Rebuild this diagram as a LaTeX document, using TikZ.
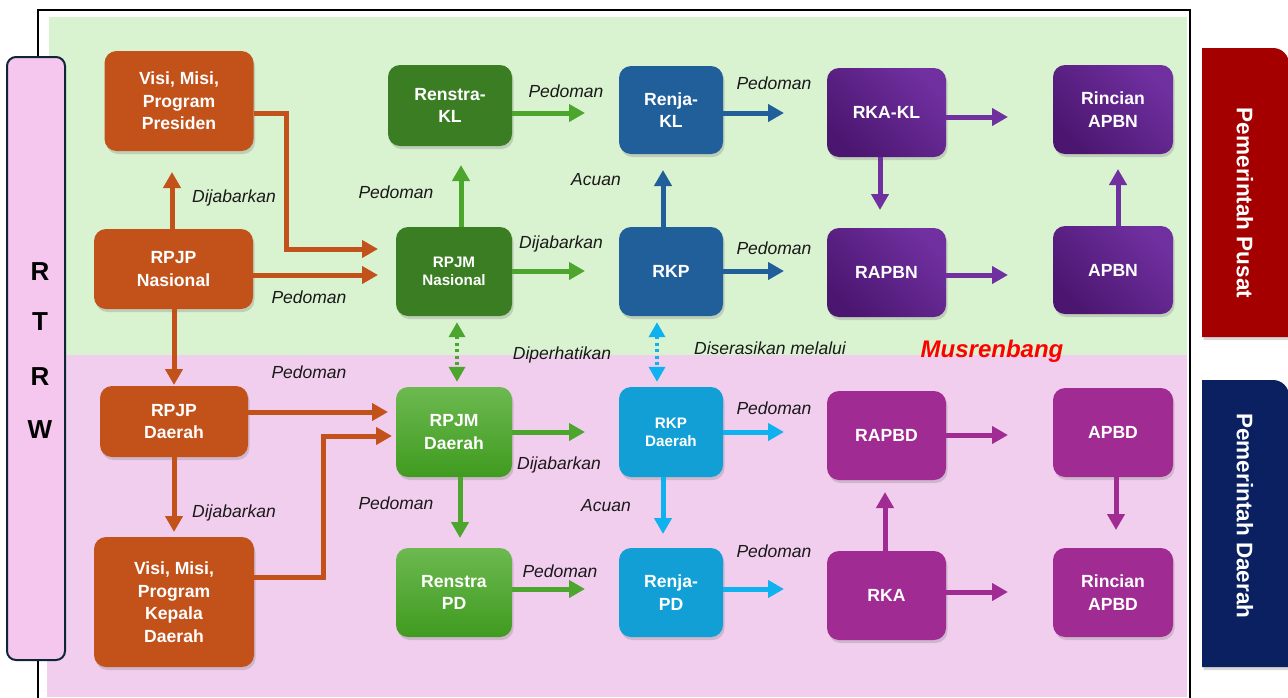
\documentclass[tikz,border=0pt]{standalone}
\usepackage{fontspec}
\setmainfont{Liberation Sans}
\usetikzlibrary{arrows.meta,shadows}
\definecolor{cOr}{HTML}{C2521A}
\definecolor{cDG}{HTML}{3B7D23}
\definecolor{aG}{HTML}{4CA52C}
\definecolor{lgT}{HTML}{6CB950}
\definecolor{lgB}{HTML}{3F9B1F}
\definecolor{cBl}{HTML}{215F9A}
\definecolor{cCy}{HTML}{129FD6}
\definecolor{aCy}{HTML}{0FB1EF}
\definecolor{puD}{HTML}{4B1670}
\definecolor{puL}{HTML}{7030A0}
\definecolor{cMg}{HTML}{A02B93}
\definecolor{bgG}{HTML}{D9F2D0}
\definecolor{bgP}{HTML}{F2CEEE}
\definecolor{rtF}{HTML}{F5C6EE}
\definecolor{rtB}{HTML}{0E2636}
\definecolor{cRed}{HTML}{A50000}
\definecolor{cNavy}{HTML}{0B2060}
\definecolor{cMus}{HTML}{FF0000}
\begin{document}
\begin{tikzpicture}[x=1pt,y=-1pt,
  box/.style={rounded corners=12pt, text=white, align=center, inner sep=2pt,
    font=\bfseries\fontsize{17.6}{22.5}\selectfont,
    drop shadow={shadow xshift=1.5pt, shadow yshift=-3pt, opacity=0.3}},
  smalltxt/.style={font=\bfseries\fontsize{15.2}{18}\selectfont},
  purp/.style={top color=puL, bottom color=puD, shading angle=-45},
  lgreen/.style={top color=lgT, bottom color=lgB},
  arr/.style={draw=#1, line width=5pt, -{Triangle[length=16pt,width=17pt]}},
  dotarr/.style={draw=#1, line width=3.5pt, dash pattern=on 3pt off 3.5pt,
    {Triangle[length=15pt,width=16pt]}-{Triangle[length=15pt,width=16pt]}},
  lab/.style={font=\itshape\fontsize{17.5}{20}\selectfont, text=black!90, inner sep=0pt},
  side/.style={font=\bfseries\fontsize{22.5}{24}\selectfont, text=white, rotate=-90, inner sep=0pt},
  rt/.style={font=\bfseries\fontsize{26}{28}\selectfont, text=black, inner sep=0pt}
]
\useasboundingbox (0,0) rectangle (1288,697);
\fill[white] (0,0) rectangle (1288,697);
% backgrounds
\fill[bgG] (49,17) rectangle (1187,355);
\fill[bgP] (47,355) rectangle (1187,697);
\draw[line width=2.5pt] (38,700) -- (38,10) -- (1190,10) -- (1190,700);
% RTRW bar
\draw[fill=rtF, draw=rtB, line width=2pt, rounded corners=9pt] (7,57) rectangle (65,660);
\node[rt] (rR1) at (40,272) {R};
\node[rt] (rT) at (40,322) {T};
\node[rt] (rR2) at (40,377) {R};
\node[rt] (rW) at (40,430) {W};
% side panels
\path[fill=cRed, drop shadow={shadow xshift=1.5pt, shadow yshift=-3pt, opacity=0.3}]
  (1202,337) -- (1202,48) -- (1273,48) arc[start angle=-90, end angle=0, radius=16] -- (1289,337) -- cycle;
\node[side] (pusat) at (1245,203) {Pemerintah Pusat};
\path[fill=cNavy, drop shadow={shadow xshift=1.5pt, shadow yshift=-3pt, opacity=0.3}]
  (1202,667) -- (1202,380) -- (1273,380) arc[start angle=-90, end angle=0, radius=16] -- (1289,667) -- cycle;
\node[side] (daerah) at (1245,516) {Pemerintah Daerah};
% nodes column 1
\node[box, fill=cOr, minimum width=149pt, minimum height=100pt] (vmp) at (179,101) {Visi, Misi,\\Program\\Presiden};
\node[box, fill=cOr, minimum width=159pt, minimum height=80pt] (rpjpn) at (173.5,269) {RPJP\\Nasional};
\node[box, fill=cOr, minimum width=148pt, minimum height=71pt] (rpjpd) at (174,421.5) {RPJP\\Daerah};
\node[box, fill=cOr, minimum width=160pt, minimum height=130pt] (vmkd) at (174,602) {Visi, Misi,\\Program\\Kepala\\Daerah};
% column 2
\node[box, fill=cDG, minimum width=124pt, minimum height=81pt] (renstrakl) at (450,105.5) {Renstra-\\KL};
\node[box, smalltxt, fill=cDG, minimum width=116pt, minimum height=89pt] (rpjmn) at (454,271.5) {RPJM\\Nasional};
\node[box, lgreen, minimum width=116pt, minimum height=90pt] (rpjmd) at (454,432) {RPJM\\Daerah};
\node[box, lgreen, minimum width=116pt, minimum height=89pt] (renstrapd) at (454,592.5) {Renstra\\PD};
% column 3
\node[box, fill=cBl, minimum width=104pt, minimum height=88pt] (renjakl) at (671,110) {Renja-\\KL};
\node[box, fill=cBl, minimum width=104pt, minimum height=89pt] (rkp) at (671,271.5) {RKP};
\node[box, smalltxt, fill=cCy, minimum width=104pt, minimum height=90pt] (rkpd) at (671,432) {RKP\\Daerah};
\node[box, fill=cCy, minimum width=104pt, minimum height=89pt] (renjapd) at (671,592.5) {Renja-\\PD};
% column 4
\node[box, purp, minimum width=119pt, minimum height=89pt] (rkakl) at (886.5,112.5) {RKA-KL};
\node[box, purp, minimum width=119pt, minimum height=89pt] (rapbn) at (886.5,272.5) {RAPBN};
\node[box, fill=cMg, minimum width=119pt, minimum height=89pt] (rapbd) at (886.5,435.5) {RAPBD};
\node[box, fill=cMg, minimum width=119pt, minimum height=89pt] (rka) at (886.5,595.5) {RKA};
% column 5
\node[box, purp, minimum width=120pt, minimum height=89pt] (rapbnr) at (1113,109.5) {Rincian\\APBN};
\node[box, purp, minimum width=120pt, minimum height=88pt] (apbn) at (1113,270) {APBN};
\node[box, fill=cMg, minimum width=120pt, minimum height=89pt] (apbd) at (1113,432.5) {APBD};
\node[box, fill=cMg, minimum width=120pt, minimum height=89pt] (rapbdr) at (1113,592.5) {Rincian\\APBD};
% arrow tips
\coordinate (t1) at (172,172);
\coordinate (t2) at (378,249);
\coordinate (t3) at (378,275);
\coordinate (t4) at (174,385);
\coordinate (t5) at (388,412);
\coordinate (t6) at (174,532);
\coordinate (t7) at (392,436);
\coordinate (t8) at (461,165);
\coordinate (t9) at (585,113);
\coordinate (t10) at (585,271);
\coordinate (t11) at (663,170);
\coordinate (t12) at (784,113);
\coordinate (t13) at (784,271);
\coordinate (t16) at (585,432);
\coordinate (t17) at (460,538);
\coordinate (t18) at (585,589);
\coordinate (t19) at (784,432);
\coordinate (t20) at (663,534);
\coordinate (t21) at (784,589);
\coordinate (t22) at (1008,117);
\coordinate (t23) at (880,210);
\coordinate (t24) at (1008,275);
\coordinate (t25) at (1118,169);
\coordinate (t26) at (1008,435);
\coordinate (t27) at (885,492);
\coordinate (t28) at (1008,592);
\coordinate (t29) at (1116,530);
\coordinate (b2) at (286,113);
\coordinate (b7) at (323,577);
% orange arrows
\draw[arr=cOr] (rpjpn.north -| t1) -- (t1);
\draw[arr=cOr] (vmp.east |- b2) -- (b2) |- (t2);
\draw[arr=cOr] (rpjpn.east |- t3) -- (t3);
\draw[arr=cOr] (rpjpn.south -| t4) -- (t4);
\draw[arr=cOr] (rpjpd.east |- t5) -- (t5);
\draw[arr=cOr] (rpjpd.south -| t6) -- (t6);
\draw[arr=cOr] (vmkd.east |- b7) -- (b7) |- (t7);
% green arrows
\draw[arr=aG] (rpjmn.north -| t8) -- (t8);
\draw[arr=aG] (renstrakl.east |- t9) -- (t9);
\draw[arr=aG] (rpjmn.east |- t10) -- (t10);
\draw[arr=aG] (rpjmd.east |- t16) -- (t16);
\draw[arr=aG] (rpjmd.south -| t17) -- (t17);
\draw[arr=aG] (renstrapd.east |- t18) -- (t18);
% blue arrows
\draw[arr=cBl] (rkp.north -| t11) -- (t11);
\draw[arr=cBl] (renjakl.east |- t12) -- (t12);
\draw[arr=cBl] (rkp.east |- t13) -- (t13);
% cyan arrows
\draw[arr=aCy] (rkpd.east |- t19) -- (t19);
\draw[arr=aCy] (rkpd.south -| t20) -- (t20);
\draw[arr=aCy] (renjapd.east |- t21) -- (t21);
% purple arrows
\draw[arr=puL] (rkakl.east |- t22) -- (t22);
\draw[arr=puL] (rkakl.south -| t23) -- (t23);
\draw[arr=puL] (rapbn.east |- t24) -- (t24);
\draw[arr=puL] (apbn.north -| t25) -- (t25);
% magenta arrows
\draw[arr=cMg] (rapbd.east |- t26) -- (t26);
\draw[arr=cMg] (rka.north -| t27) -- (t27);
\draw[arr=cMg] (rka.east |- t28) -- (t28);
\draw[arr=cMg] (apbd.south -| t29) -- (t29);
% dotted double arrows
\draw[dotarr=aG, shorten <=6pt, shorten >=5pt] ([xshift=3pt]rpjmn.south) -- ([xshift=3pt]rpjmd.north);
\draw[dotarr=aCy, shorten <=6pt, shorten >=5pt] ([xshift=-14pt]rkp.south) -- ([xshift=-14pt]rkpd.north);
% labels
\node[lab] (l1) at (234,198) {Dijabarkan};
\node[lab] (l2) at (309,297) {Pedoman};
\node[lab] (l3) at (396,192) {Pedoman};
\node[lab] (l4) at (566,91) {Pedoman};
\node[lab] (l5) at (774,83) {Pedoman};
\node[lab] (l6) at (596,180) {Acuan};
\node[lab] (l7) at (561,244) {Dijabarkan};
\node[lab] (l8) at (774,248) {Pedoman};
\node[lab] (l9) at (562,355) {Diperhatikan};
\node[lab] (l10) at (770,348) {Diserasikan melalui};
\node[font=\bfseries\itshape\fontsize{24}{26}\selectfont, text=cMus, inner sep=0pt] (l11) at (992,351) {Musrenbang};
\node[lab] (l12) at (309,372) {Pedoman};
\node[lab] (l13) at (234,513) {Dijabarkan};
\node[lab] (l14) at (396,503) {Pedoman};
\node[lab] (l15) at (559,465) {Dijabarkan};
\node[lab] (l16) at (606,506) {Acuan};
\node[lab] (l17) at (774,408) {Pedoman};
\node[lab] (l18) at (560,571) {Pedoman};
\node[lab] (l19) at (774,551) {Pedoman};
\end{tikzpicture}
\end{document}
